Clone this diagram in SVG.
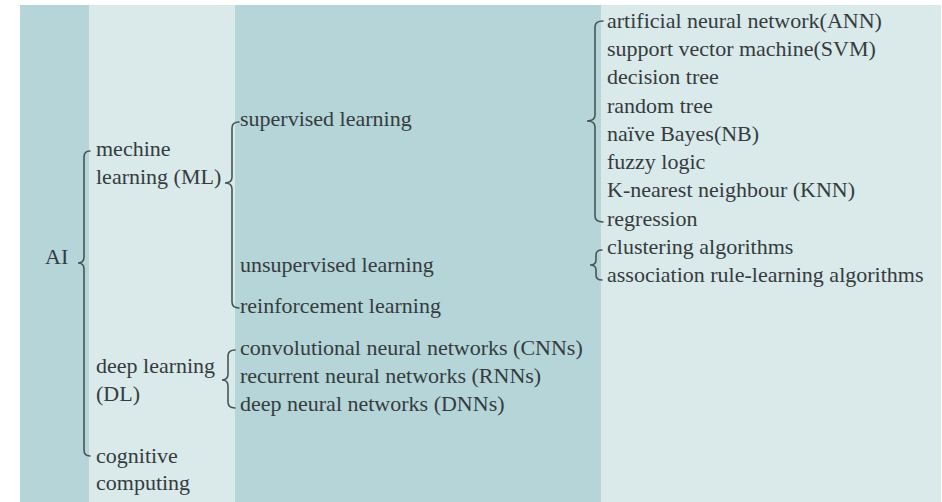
<svg xmlns="http://www.w3.org/2000/svg" width="942" height="502" viewBox="0 0 942 502">
<style>
.dark{fill:#b5d5d8}
.light{fill:#dae9ea}
text{font-family:"Liberation Serif","Times New Roman",serif;font-size:22px;fill:#343c3e}
.brace{fill:none;stroke:#4a5456;stroke-width:1.6;stroke-linecap:round}
</style>
<rect x="0" y="0" width="942" height="502" fill="#ffffff"/>
<g id="panels">
<rect class="dark" x="20" y="5" width="70" height="497"/>
<rect class="light" x="89" y="5" width="147" height="497"/>
<rect class="dark" x="235" y="5" width="366" height="497"/>
<rect class="light" x="601" y="5" width="340" height="497"/>
</g>
<g id="connectors">
<path class="brace" d="M90 151 Q84 151 84 157 L84 257 Q84 263 78 263 Q84 263 84 269 L84 450 Q84 456 90 456"/>
<path class="brace" d="M239 122 Q232 122 232 128 L232 177 Q232 183 225 183 Q232 183 232 189 L232 302 Q232 308 239 308"/>
<path class="brace" d="M603 21 Q595 21 595 27 L595 115 Q595 121 587 121 Q595 121 595 127 L595 216 Q595 222 603 222"/>
<path class="brace" d="M602 250 Q596 250 596 255 L596 260 Q596 265 590 265 Q596 265 596 270 L596 275 Q596 280 602 280"/>
<path class="brace" d="M235 350 Q228 350 228 356 L228 374 Q228 380 222 380 Q228 380 228 386 L228 402 Q228 408 235 408"/>
</g>
<g id="ai"><text x="45" y="264">AI</text></g>
<g id="ml"><text x="96" y="156">mechine</text><text x="96" y="184">learning (ML)</text></g>
<g id="dl"><text x="96" y="373">deep learning</text><text x="96" y="401">(DL)</text></g>
<g id="cc"><text x="96" y="463">cognitive</text><text x="96" y="490">computing</text></g>
<g id="supervised"><text x="240" y="126">supervised learning</text></g>
<g id="unsupervised"><text x="240" y="272">unsupervised learning</text></g>
<g id="reinforcement"><text x="240" y="313">reinforcement learning</text></g>
<g id="cnn"><text x="240" y="355">convolutional neural networks (CNNs)</text></g>
<g id="rnn"><text x="240" y="383">recurrent neural networks (RNNs)</text></g>
<g id="dnn"><text x="240" y="411">deep neural networks (DNNs)</text></g>
<g id="ann"><text x="607" y="28">artificial neural network(ANN)</text></g>
<g id="svm"><text x="607" y="56">support vector machine(SVM)</text></g>
<g id="dtree"><text x="607" y="84">decision tree</text></g>
<g id="rtree"><text x="607" y="113">random tree</text></g>
<g id="nb"><text x="607" y="141">naïve Bayes(NB)</text></g>
<g id="fuzzy"><text x="607" y="169">fuzzy logic</text></g>
<g id="knn"><text x="607" y="197">K-nearest neighbour (KNN)</text></g>
<g id="regression"><text x="607" y="226">regression</text></g>
<g id="clustering"><text x="607" y="254">clustering algorithms</text></g>
<g id="association"><text x="607" y="282">association rule-learning algorithms</text></g>
</svg>
